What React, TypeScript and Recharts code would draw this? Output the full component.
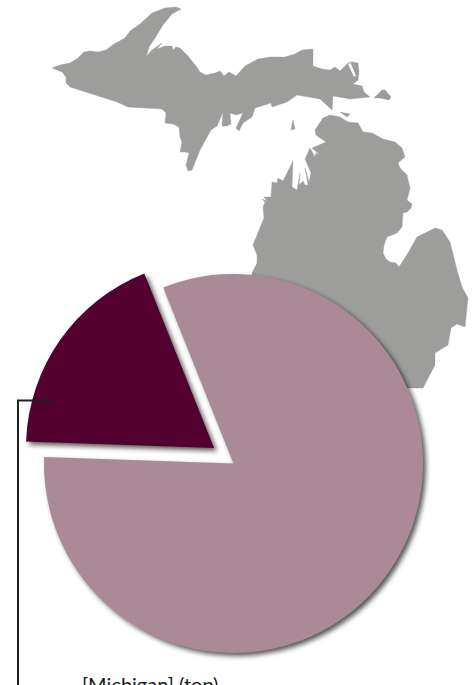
import React from "react";
import { PieChart, Pie, Cell, Sector, Customized } from "recharts";

const categories = ["Michigan", "Other"];
const shares = [18.4, 81.6];
const colors = ["#52002E", "#AB8A97"];
const caption = "[Michigan] (top)";
const explodeOffset = [{ x: -19.5, y: -15.5, dr: -1.5 }, { x: 0, y: 0, dr: 0 }];

const data = categories.map((name, i) => ({ name, value: shares[i] }));

const mainland =
  "52,68 60,65 70,63 78,58 84,52 90,51 98,52 106,50 114,44 125,38 130,31 140,24 152,13 165,8 176,7 181,9 172,14 163,25 155,38 149,47 146.5,56 152,50 162,43 157,49 165,46 172,46 173,50 176,47 180,48 188,56 196,66 200,72 206,75 215,73 220,71 224,76 229,72 236,76 245,66 258,59 270,57 285,57 295,54 302,50 313,49 313,66 322,69 330,70 335,67 340,71 348,63 352,62 358,63 359,72 358,80 353,84 362,86 364,92 370,97 350,99 333,96 332,110 320,99 297,95 287,102 272,107 271,103 255,108 252,117 243,123 239,131 236,128 243,113 236,115 230,113 231,124 227,126 222,126 223,112 217,126 211,130 200,150 192,170 188,171 186,165 189,153 185,152 180,152 182,142 180,137 179,127 173,124 165,123 166,113 162,109 128,107 117,102 70,87 66,83 66,77 62,72";

const lower =
  "330,115 340,117 348,122 358,123 363,132 372,133 383,139 395,142 402,148 405,157 398,163 400,168 407,175 410,188 407,200 412,204 411,208 407,212 403,213 402,227 397,233 387,237 384,245 383,253 386,259 390,262 396,263 399,267 408,253 417,237 425,233 435,228 442,230 450,242 457,270 462,287 468,298 465,327 457,324 451,328 448,345 435,353 435,365 423,388 252,388 252,273 257,263 257,255 253,245 255,240 264,218 263,207 265,202 262,199 267,201 264,197 271,197 272,182 277,183 278,178 283,181 293,161 292,187 297,190 300,173 299,185 303,181 305,185 308,185 305,168 309,182 311,173 305,159 310,148 315,157 316,153 320,155 312,148 326,142 316,135 315,130 323,118";

const islands = [
  "340,112 350,114 347,117",
  "374,98 382,90 385,90 391,97 389,100 380,98",
  "293,120 295,129 291,130",
];
const sugarSlit = "348,64 350.5,63 356,75.5 354,77";

const MapBackdrop = () => (
  <g>
    {[mainland, lower, ...islands].map((p, i) => (
      <polygon key={i} points={p} fill="#9D9D9C" stroke="#9D9D9C" strokeWidth={0.4} strokeLinejoin="round" />
    ))}
    <polygon points={sugarSlit} fill="#fff" />
  </g>
);

const shape = (props: any) => {
  const off = explodeOffset[props.index] ?? { x: 0, y: 0, dr: 0 };
  return (
    <Sector
      {...props}
      cx={props.cx + off.x}
      cy={props.cy + off.y}
      outerRadius={props.outerRadius + off.dr}
      stroke="none"
      style={{ filter: "drop-shadow(3px 3px 2.5px rgba(0,0,0,0.65))" }}
    />
  );
};

export default function App() {
  return (
    <div style={{ position: "absolute", left: 0, top: 0, width: 476, height: 685, overflow: "hidden", background: "#fff" }}>
      <PieChart width={476} height={685} margin={{ top: 0, right: 0, bottom: 0, left: 0 }}>
        <Customized component={MapBackdrop} />
        <Pie
          data={data}
          dataKey="value"
          nameKey="name"
          cx={233.5}
          cy={463.5}
          innerRadius={0}
          outerRadius={189.5}
          startAngle={178}
          endAngle={-182}
          stroke="none"
          isAnimationActive={false}
          shape={shape}
        >
          {data.map((d, i) => (
            <Cell key={d.name} fill={colors[i]} />
          ))}
        </Pie>
      </PieChart>
      <svg width={476} height={685} style={{ position: "absolute", left: 0, top: 0, pointerEvents: "none" }}>
        <path d="M52,400.5 H18 V685" fill="none" stroke="#231F20" strokeWidth={2} />
        <text x={82} y={692} fontFamily="Lato" fontSize={20} fill="#1a1a1a">{caption}</text>
      </svg>
    </div>
  );
}
